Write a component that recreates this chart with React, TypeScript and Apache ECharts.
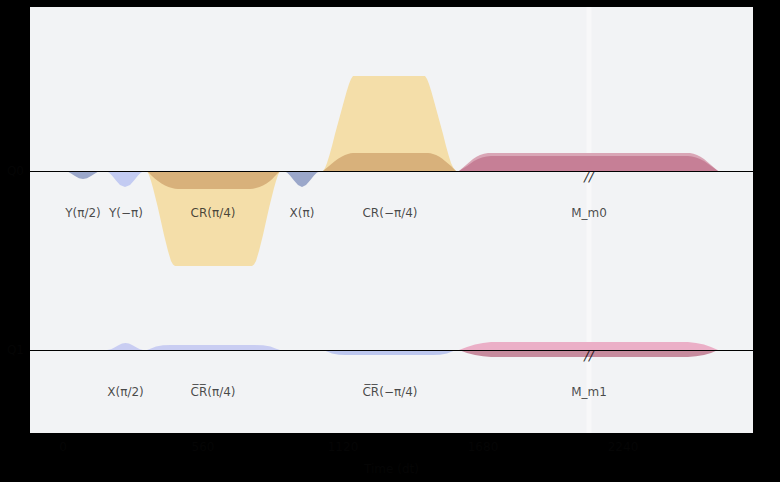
import React, { useEffect, useRef } from "react";
import * as echarts from "echarts";

// ---- Axis / labels ----
const TIME_TICKS = [0, 560, 1120, 1680, 2240];
const CHANNEL_NAMES = ["Q0", "Q1"];
const CHANNEL_OFFSETS = [0, -1.79];

// ---- Channel 0 pulses: [time (dt), amplitude] ----
const Y_PI2 = [[4, 0], [20, -0.008], [32, -0.025], [48, -0.05], [64, -0.072], [80, -0.08], [96, -0.072], [112, -0.05], [128, -0.025], [140, -0.008], [156, 0]];
const Y_MPI = [[168, 0], [184, -0.015], [196, -0.045], [212, -0.095], [228, -0.14], [248, -0.16], [268, -0.14], [284, -0.095], [300, -0.045], [312, -0.015], [328, 0]];
const CR_P_REAL = [[336, 0], [344, -0.04], [352, -0.1], [360, -0.17], [368, -0.25], [378, -0.35], [388, -0.46], [396, -0.55], [404, -0.64], [412, -0.72], [420, -0.8], [426, -0.85], [432, -0.9], [440, -0.935], [448, -0.95], [756, -0.95], [764, -0.935], [772, -0.9], [778, -0.85], [784, -0.8], [792, -0.72], [800, -0.64], [808, -0.55], [816, -0.46], [826, -0.35], [836, -0.25], [844, -0.17], [852, -0.1], [860, -0.04], [868, 0]];
const CR_P_IMAG = [[336, 0], [346, -0.025], [356, -0.05], [368, -0.077], [380, -0.1], [394, -0.125], [408, -0.145], [422, -0.16], [436, -0.17], [448, -0.177], [460, -0.18], [748, -0.18], [760, -0.177], [772, -0.17], [786, -0.16], [800, -0.145], [814, -0.125], [828, -0.1], [838, -0.077], [848, -0.05], [858, -0.025], [868, 0]];
const X_PI = [[880, 0], [896, -0.015], [908, -0.045], [924, -0.095], [940, -0.14], [956, -0.16], [972, -0.14], [988, -0.095], [1004, -0.045], [1016, -0.015], [1036, 0]];
const CR_M_REAL = [[1040, 0], [1048, 0.03], [1056, 0.08], [1066, 0.16], [1076, 0.25], [1088, 0.37], [1100, 0.48], [1112, 0.59], [1124, 0.7], [1134, 0.79], [1144, 0.87], [1152, 0.92], [1160, 0.95], [1448, 0.95], [1456, 0.92], [1464, 0.87], [1474, 0.79], [1484, 0.7], [1496, 0.59], [1508, 0.48], [1520, 0.37], [1532, 0.25], [1542, 0.16], [1552, 0.08], [1562, 0.03], [1572, 0]];
const CR_M_IMAG = [[1040, 0], [1052, 0.026], [1064, 0.05], [1076, 0.076], [1088, 0.1], [1102, 0.124], [1116, 0.145], [1128, 0.16], [1140, 0.17], [1150, 0.177], [1160, 0.18], [1460, 0.18], [1470, 0.177], [1480, 0.17], [1492, 0.16], [1504, 0.145], [1516, 0.124], [1528, 0.1], [1540, 0.076], [1552, 0.05], [1562, 0.026], [1572, 0]];
const M0_OUTER = [[1584, 0], [1598, 0.03], [1612, 0.06], [1626, 0.09], [1640, 0.12], [1654, 0.143], [1668, 0.16], [1684, 0.173], [1700, 0.18], [2508, 0.18], [2522, 0.173], [2536, 0.16], [2550, 0.143], [2564, 0.12], [2578, 0.09], [2592, 0.06], [2606, 0.03], [2620, 0]];
const M0_INNER = [[1584, 0], [1600, 0.025], [1616, 0.05], [1630, 0.076], [1644, 0.1], [1660, 0.12], [1676, 0.135], [1694, 0.145], [1712, 0.15], [2500, 0.15], [2516, 0.145], [2532, 0.135], [2548, 0.12], [2564, 0.1], [2578, 0.076], [2592, 0.05], [2606, 0.025], [2620, 0]];

// ---- Channel 1 pulses ----
const X_PI2 = [[176, 0], [192, 0.008], [204, 0.022], [220, 0.045], [236, 0.065], [250, 0.07], [264, 0.065], [280, 0.045], [296, 0.022], [308, 0.008], [320, 0]];
const CRB_P = [[336, 0], [352, 0.015], [372, 0.035], [400, 0.048], [430, 0.05], [760, 0.05], [800, 0.048], [830, 0.035], [850, 0.015], [868, 0]];
const CRB_M = [[1040, 0], [1056, -0.015], [1076, -0.035], [1104, -0.048], [1130, -0.05], [1480, -0.05], [1508, -0.048], [1536, -0.035], [1556, -0.015], [1572, 0]];
const M1_UP = [[1584, 0], [1616, 0.03], [1648, 0.055], [1680, 0.07], [1712, 0.08], [2500, 0.08], [2532, 0.07], [2564, 0.055], [2592, 0.03], [2620, 0]];
const M1_DOWN = [[1584, 0], [1616, -0.03], [1648, -0.05], [1680, -0.063], [1712, -0.07], [2500, -0.07], [2532, -0.063], [2564, -0.05], [2592, -0.03], [2620, 0]];

// ---- Gate labels: [text, time] ----
const LABELS_CH0: [string, number][] = [["Y(π/2)", 80], ["Y(−π)", 252], ["CR(π/4)", 600], ["X(π)", 956], ["CR(−π/4)", 1308], ["M_m0", 2104]];
const LABELS_CH1: [string, number][] = [["X(π/2)", 250], ["C\u0305R\u0305(π/4)", 600], ["C\u0305R\u0305(−π/4)", 1308], ["M_m1", 2104]];
const LABEL_DROP = -0.42;

// ---- Time axis break ----
const BREAK_START = 2094;
const BREAK_END = 2114;

const DARK = "#050505";

export default function App() {
  const ref = useRef<HTMLDivElement>(null);
  useEffect(() => {
    document.body.style.margin = "0";
    document.body.style.background = "#000";
    const chart = echarts.init(ref.current!, null, { renderer: "svg" });

    const pulse = (pts: number[][], ch: number, color: string, z: number) => ({
      type: "line",
      data: pts.map(([t, v]) => [t, CHANNEL_OFFSETS[ch] + v]),
      symbol: "none",
      smooth: false,
      lineStyle: { width: 0 },
      areaStyle: { color, opacity: 1, origin: CHANNEL_OFFSETS[ch] },
      silent: true,
      z,
    });

    const labelData = [
      ...LABELS_CH0.map(([n, t]) => ({ name: n, value: [t, CHANNEL_OFFSETS[0] + LABEL_DROP] })),
      ...LABELS_CH1.map(([n, t]) => ({ name: n, value: [t, CHANNEL_OFFSETS[1] + LABEL_DROP] })),
    ];
    const breakMid = (BREAK_START + BREAK_END) / 2;
    const darkText = { color: DARK, fontFamily: "DejaVu Sans", fontSize: 12, textBorderWidth: 0, textShadowBlur: 0, opacity: 1 };

    chart.setOption({
      animation: false,
      backgroundColor: "#000",
      textStyle: { color: DARK, fontFamily: "DejaVu Sans" },
      grid: {
        left: 30, right: 27, top: 7, bottom: 49,
        show: true, backgroundColor: "#f2f3f5", borderWidth: 0,
      },
      xAxis: {
        type: "value",
        min: -132,
        max: 2760,
        splitLine: { show: false },
        axisLine: { show: false, lineStyle: { color: DARK } },
        axisTick: { show: false },
        axisLabel: {
          ...darkText,
          customValues: TIME_TICKS,
          formatter: (v: number) => String(v),
        },
        name: "Time (dt)",
        nameLocation: "middle",
        nameGap: 30,
        nameTextStyle: darkText,
      },
      yAxis: {
        type: "value",
        min: -2.62,
        max: 1.64,
        splitLine: { show: false },
        axisLine: { show: false, lineStyle: { color: DARK } },
        axisTick: { show: false },
        axisLabel: {
          ...darkText,
          customValues: CHANNEL_OFFSETS,
          formatter: (v: number) => CHANNEL_NAMES[CHANNEL_OFFSETS.indexOf(v)] ?? "",
          margin: 6,
        },
      },
      series: [
        pulse(Y_PI2, 0, "#9ba7ca", 2),
        pulse(Y_MPI, 0, "#c3cbf2", 2),
        pulse(CR_P_REAL, 0, "#f4dea9", 2),
        pulse(CR_P_IMAG, 0, "#d8b17b", 3),
        pulse(X_PI, 0, "#9ba7ca", 2),
        pulse(CR_M_REAL, 0, "#f4dea9", 2),
        pulse(CR_M_IMAG, 0, "#d8b17b", 3),
        pulse(M0_OUTER, 0, "#d9a6b6", 2),
        pulse(M0_INNER, 0, "#c67f96", 3),
        pulse(X_PI2, 1, "#c9cdf2", 2),
        pulse(CRB_P, 1, "#c9cdf2", 2),
        pulse(CRB_M, 1, "#bcc6ee", 2),
        pulse(M1_UP, 1, "#ebafc7", 2),
        pulse(M1_DOWN, 1, "#c68a9d", 2),
        {
          type: "line",
          data: [],
          silent: true,
          z: 5,
          markArea: {
            silent: true,
            itemStyle: { color: "#f8f8f9", opacity: 1 },
            label: { show: false },
            data: [[{ xAxis: BREAK_START }, { xAxis: BREAK_END }]],
          },
        },
        {
          type: "line",
          data: [],
          silent: true,
          z: 6,
          markLine: {
            silent: true,
            symbol: "none",
            label: { show: false },
            lineStyle: { color: "#000", width: 1, type: "solid" },
            data: CHANNEL_OFFSETS.map((y) => ({ yAxis: y })),
          },
        },
        {
          type: "scatter",
          symbolSize: 0,
          silent: true,
          z: 7,
          data: CHANNEL_OFFSETS.map((y) => ({ name: "//", value: [breakMid, y - 0.05] })),
          label: {
            show: true,
            position: "inside",
            formatter: "{b}",
            color: "#000",
            fontFamily: "DejaVu Sans",
            fontSize: 14,
            fontStyle: "italic",
          },
        },
        {
          type: "scatter",
          symbolSize: 0,
          silent: true,
          z: 7,
          data: labelData,
          label: {
            show: true,
            position: "inside",
            formatter: "{b}",
            color: "#1a1a1a",
            fontFamily: "DejaVu Sans",
            fontSize: 12,
          },
        },
      ],
    });
    return () => chart.dispose();
  }, []);
  return (
    <div
      ref={ref}
      style={{ position: "absolute", left: 0, top: 0, width: 780, height: 482, background: "#000" }}
    />
  );
}
